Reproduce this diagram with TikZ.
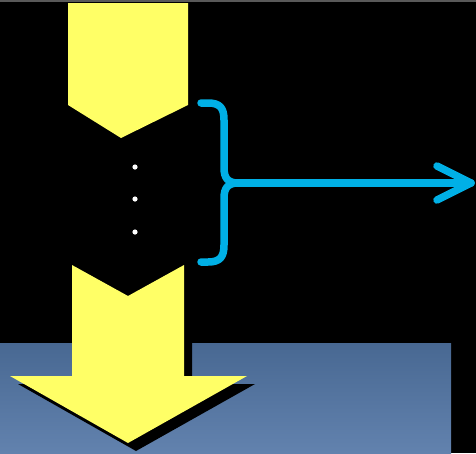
\documentclass[tikz,border=0pt]{standalone}
\begin{document}
\begin{tikzpicture}[x=1pt,y=-1pt,
  yel/.style={fill={rgb,255:red,255;green,255;blue,102}},
  bracestyle/.style={draw={rgb,255:red,0;green,176;blue,230},line width=7.5pt,line cap=round,line join=round}]
\useasboundingbox (0,0) rectangle (476,453);
\fill[black] (0,0) rectangle (476,453);
\fill[gray!70!black] (0,0) rectangle (476,2);
% blue floor with gradient
\shade[top color={rgb,255:red,72;green,104;blue,146}, bottom color={rgb,255:red,98;green,130;blue,174}] (0,343) rectangle (451,453);
% top chevron
\path[yel] (68,3) -- (188,3) -- (188,105) -- (121,138) -- (68,105) -- cycle;
% dots
\foreach \yy in {167,199,232} \fill[white] (135,\yy) circle (2.6);
% bottom arrow shadow
\fill[black] (80,273) -- (136,304) -- (192,273) -- (192,384) -- (255,384) -- (136,451) -- (18,384) -- (80,384) -- cycle;
% bottom arrow
\path[yel] (72,265) -- (128,296) -- (184,265) -- (184,376) -- (247,376) -- (128,443) -- (10,376) -- (72,376) -- cycle;
% brace and arrow
\coordinate (btop) at (201,103);
\coordinate (bbot) at (201,262);
\coordinate (cusp) at (238,183);
\coordinate (tip) at (471,183);
\draw[bracestyle] (btop) -- (208,103) .. controls (220,103) and (224,108) .. (224,120) -- (224,168) .. controls (224,178) and (228,183) .. (cusp);
\draw[bracestyle] (bbot) -- (208,262) .. controls (220,262) and (224,257) .. (224,245) -- (224,198) .. controls (224,188) and (228,183) .. (cusp);
\draw[bracestyle] (cusp) -- (tip);
\draw[bracestyle] (437,166) -- (tip) -- (437,200);
\end{tikzpicture}
\end{document}
